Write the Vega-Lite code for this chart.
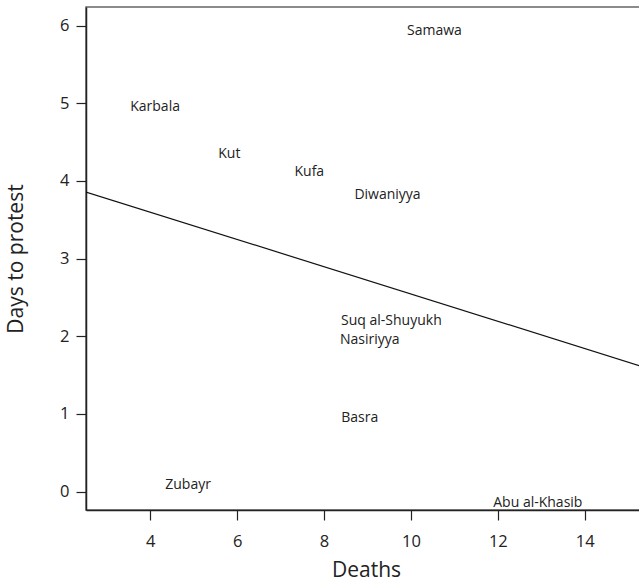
{
  "$schema": "https://vega.github.io/schema/vega-lite/v6.json",
  "autosize": "none",
  "padding": {"left": 86, "top": 7, "right": 0, "bottom": 75},
  "width": 560,
  "height": 503,
  "background": "white",
  "config": {
    "view": {"stroke": "#666", "strokeWidth": 1.5},
    "font": "Open Sans",
    "axis": {
      "grid": false,
      "domainColor": "#222",
      "domainWidth": 1.5,
      "tickColor": "#222",
      "tickWidth": 1.2,
      "tickSize": 10,
      "labelFont": "Open Sans",
      "labelFontSize": 16.5,
      "labelColor": "#222",
      "titleFont": "Open Sans",
      "titleFontSize": 21,
      "titleFontWeight": "normal",
      "titleColor": "#222"
    }
  },
  "datasets": {
    "cities": [
      {"city": "Samawa", "deaths": 10.54, "days": 5.93},
      {"city": "Karbala", "deaths": 4.11, "days": 4.95},
      {"city": "Kut", "deaths": 5.82, "days": 4.35},
      {"city": "Kufa", "deaths": 7.66, "days": 4.12},
      {"city": "Diwaniyya", "deaths": 9.46, "days": 3.82},
      {"city": "Suq al-Shuyukh", "deaths": 9.55, "days": 2.2},
      {"city": "Nasiriyya", "deaths": 9.05, "days": 1.955},
      {"city": "Basra", "deaths": 8.82, "days": 0.946},
      {"city": "Zubayr", "deaths": 4.87, "days": 0.086},
      {"city": "Abu al-Khasib", "deaths": 12.92, "days": -0.15}
    ],
    "fit": [
      {"deaths": 2.52, "days": 3.858},
      {"deaths": 15.41, "days": 1.596}
    ]
  },
  "layer": [
    {
      "data": {"name": "fit"},
      "mark": {"type": "line", "color": "#111", "strokeWidth": 1.2, "clip": true},
      "encoding": {
        "x": {
          "field": "deaths", "type": "quantitative",
          "scale": {"domain": [2.52, 15.41], "nice": false, "zero": false},
          "axis": {"values": [4, 6, 8, 10, 12, 14], "format": "d", "title": "Deaths", "labelPadding": 13, "titlePadding": 10}
        },
        "y": {
          "field": "days", "type": "quantitative",
          "scale": {"domain": [-0.236, 6.24], "nice": false, "zero": false},
          "axis": {"values": [0, 1, 2, 3, 4, 5, 6], "format": "d", "title": "Days to protest", "labelPadding": 7, "titlePadding": 33}
        }
      }
    },
    {
      "data": {"name": "cities"},
      "mark": {"type": "text", "fontSize": 14, "font": "Open Sans", "color": "#222", "baseline": "middle", "align": "center"},
      "encoding": {
        "x": {"field": "deaths", "type": "quantitative"},
        "y": {"field": "days", "type": "quantitative"},
        "text": {"field": "city"}
      }
    }
  ]
}
